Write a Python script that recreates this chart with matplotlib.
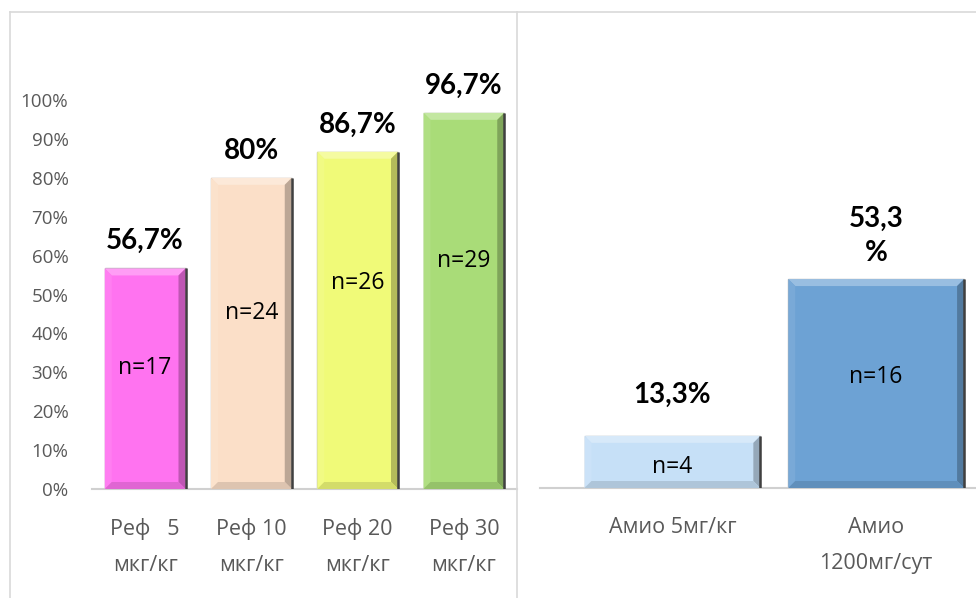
import matplotlib
matplotlib.use("Agg")
import matplotlib.pyplot as plt
from matplotlib.patches import Polygon
from matplotlib.lines import Line2D
import matplotlib.colors as mcolors

# ---- data ----
left_categories = ["Реф   5\nмкг/кг", "Реф 10\nмкг/кг", "Реф 20\nмкг/кг", "Реф 30\nмкг/кг"]
left_values = [0.567, 0.80, 0.867, 0.967]
left_value_labels = ["56,7%", "80%", "86,7%", "96,7%"]
left_n_labels = ["n=17", "n=24", "n=26", "n=29"]
left_colors = ["#FF73F0", "#FBDFC8", "#F0FA78", "#A9DC78"]

right_categories = ["Амио 5мг/кг", "Амио\n1200мг/сут"]
right_values = [0.133, 0.533]
right_value_labels = ["13,3%", "53,3\n%"]
right_n_labels = ["n=4", "n=16"]
right_colors = ["#C6E0F7", "#6DA2D4"]

yticks = [0, 0.1, 0.2, 0.3, 0.4, 0.5, 0.6, 0.7, 0.8, 0.9, 1.0]
ytick_labels = ["0%", "10%", "20%", "30%", "40%", "50%", "60%", "70%", "80%", "90%", "100%"]

W, H = 976, 598
fig = plt.figure(figsize=(W / 100, H / 100), dpi=100)
fig.patch.set_facecolor("white")

def fx(px):
    return px / W

def fy(py):
    return 1 - py / H

# frame lines
frame_c = "#D9D9D9"
fig.add_artist(Line2D([fx(10), fx(976)], [fy(12), fy(12)], color=frame_c, lw=1.2, transform=fig.transFigure))
fig.add_artist(Line2D([fx(10), fx(10)], [fy(12), fy(598)], color=frame_c, lw=1.2, transform=fig.transFigure))
fig.add_artist(Line2D([fx(517), fx(517)], [fy(12), fy(598)], color=frame_c, lw=1.2, transform=fig.transFigure))

axL = fig.add_axes([fx(92), fy(489), fx(517) - fx(92), 389 / H])
axR = fig.add_axes([fx(540), fy(488), fx(976) - fx(540), 392 / H])

def shade(c, f):
    r, g, b = mcolors.to_rgb(c)
    if f >= 0:
        return (r + (1 - r) * f, g + (1 - g) * f, b + (1 - b) * f)
    f = -f
    return (r * (1 - f), g * (1 - f), b * (1 - f))

def bevel_bars(ax, xs, vals, width, colors, ppx, ppy):
    bars = ax.bar(xs, vals, width=width, color=colors, edgecolor="#B5B5B5", linewidth=1.0, zorder=2)
    bx = 7 / ppx
    by = 7 / ppy
    for b, c in zip(bars, colors):
        x0 = b.get_x(); x1 = x0 + b.get_width(); y1 = b.get_height(); y0 = 0
        bye = min(by, y1 / 2)
        top = Polygon([(x0, y1), (x1, y1), (x1 - bx, y1 - bye), (x0 + bx, y1 - bye)],
                      closed=True, fc=shade(c, 0.3), ec="none", zorder=3)
        left = Polygon([(x0, y0), (x0, y1), (x0 + bx, y1 - bye), (x0 + bx, y0 + bye)],
                       closed=True, fc=shade(c, 0.08), ec="none", zorder=3)
        right = Polygon([(x1, y0), (x1, y1), (x1 - bx, y1 - bye), (x1 - bx, y0 + bye)],
                        closed=True, fc=shade(c, -0.25), ec="none", zorder=3)
        bot = Polygon([(x0, y0), (x1, y0), (x1 - bx, y0 + bye), (x0 + bx, y0 + bye)],
                      closed=True, fc=shade(c, -0.12), ec="none", zorder=3)
        for p in (top, left, right, bot):
            ax.add_patch(p)
        ax.plot([x1, x1], [y0, y1], color="#404040", lw=1.8, zorder=4, solid_capstyle="butt")
    return bars

val_font = dict(family=["Lato", "DejaVu Sans"], fontweight="bold", fontsize=20, color="black")
n_font = dict(family=["Open Sans", "DejaVu Sans"], fontsize=16.5, color="black")
tick_font = ["Open Sans", "DejaVu Sans"]
tick_color = "#595959"

# ---- left panel ----
xl = list(range(len(left_values)))
axL.set_xlim(-0.5, len(left_values) - 0.5)
axL.set_ylim(0, 1.0)
bevel_bars(axL, xl, left_values, 0.76, left_colors, 425 / 4.0, 389)

n_pos_L = [0.311, 0.452, 0.53, 0.586]
for x, v, lab, nl, npos in zip(xl, left_values, left_value_labels, left_n_labels, n_pos_L):
    axL.text(x, v + 0.07, lab, ha="center", va="center", clip_on=False, zorder=5, **val_font)
    axL.text(x, npos, nl, ha="center", va="center", zorder=5, **n_font)

axL.set_yticks(yticks)
axL.set_yticklabels(ytick_labels, fontsize=13.5, color=tick_color, family=tick_font)
axL.set_xticks(xl)
axL.set_xticklabels(left_categories, fontsize=15.5, color=tick_color, family=tick_font, linespacing=1.9)
axL.tick_params(axis="both", length=0)
axL.tick_params(axis="y", pad=17)
axL.tick_params(axis="x", pad=21)
for s in ["top", "right", "left"]:
    axL.spines[s].set_visible(False)
axL.spines["bottom"].set_color("#D0D0D0")
axL.spines["bottom"].set_linewidth(1.5)
axL.patch.set_alpha(0)

# ---- right panel ----
xr = list(range(len(right_values)))
axR.set_xlim(-0.65, 1.49)
axR.set_ylim(0, 1.0)
bevel_bars(axR, xr, right_values, 0.863, right_colors, 204, 392)

val_offsets_R = [0.105, 0.11]
n_pos_R = [0.054, 0.283]
for x, v, lab, nl, off, npos in zip(xr, right_values, right_value_labels, right_n_labels, val_offsets_R, n_pos_R):
    axR.text(x, v + off, lab, ha="center", va="center", clip_on=False, zorder=5, linespacing=1.42, **val_font)
    axR.text(x, npos, nl, ha="center", va="center", zorder=5, **n_font)

axR.set_yticks([])
axR.set_xticks(xr)
axR.set_xticklabels(right_categories, fontsize=15.5, color=tick_color, family=tick_font, linespacing=1.9, va="top")
axR.tick_params(axis="x", length=0, pad=21)
for s in ["top", "right", "left"]:
    axR.spines[s].set_visible(False)
axR.spines["bottom"].set_color("#D0D0D0")
axR.spines["bottom"].set_linewidth(1.5)
axR.patch.set_alpha(0)

fig.savefig("out.png", dpi=100, facecolor="white")
